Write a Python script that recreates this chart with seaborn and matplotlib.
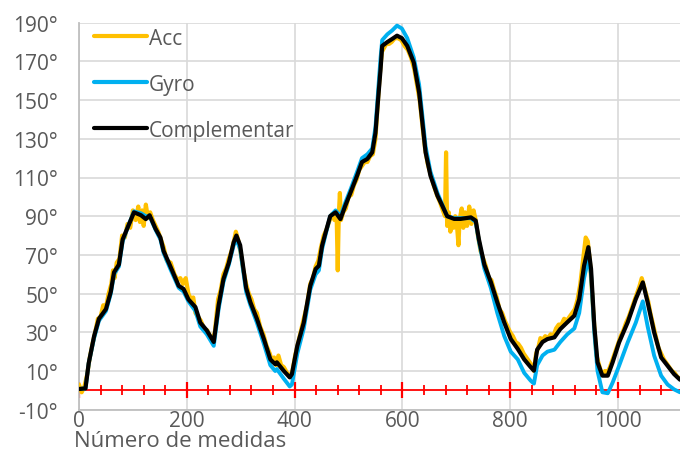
import numpy as np
import pandas as pd
import matplotlib
matplotlib.use("Agg")
import matplotlib.pyplot as plt
from matplotlib.ticker import MultipleLocator, FixedLocator
from matplotlib.lines import Line2D
import seaborn as sns

# ---------------- data ----------------
comp_x = [0, 12, 18, 28, 37, 50, 59, 65, 74, 81,
          90, 102, 115, 124, 131, 142, 151, 157, 169, 185,
          194, 203, 216, 225, 237, 250, 259, 268, 278, 287,
          292, 299, 305, 310, 318, 330, 343, 355, 364, 367,
          380, 391, 395, 405, 417, 429, 439, 445, 451, 457,
          466, 476, 485, 494, 504, 516, 525, 535, 544, 550,
          554.5, 559.5, 562.5, 572, 581, 590, 599, 609, 621, 631,
          637, 643, 652, 665, 674, 683, 696, 708, 727, 736,
          742, 752, 764, 776, 789, 801, 814, 826, 838, 844,
          850, 860, 869, 882, 893, 906, 919, 928, 937, 945,
          950, 956, 962, 971, 981, 990, 1002, 1018, 1033, 1046,
          1055, 1067, 1080, 1092, 1104, 1115]

comp_y = [0.7, 1, 14, 28, 37, 42, 51, 61, 65, 78,
          84, 92, 90.5, 88.5, 90.5, 83.5, 79, 72, 64.4, 54,
          52.4, 47, 43, 35, 31, 25, 44, 57.5, 66, 76.5,
          80, 75, 63, 53, 45.5, 37, 26.5, 16, 13.5, 14.5,
          10, 6.7, 8.4, 23, 35, 54, 62.7, 64.4, 74.8, 81,
          90, 92, 88.5, 95.4, 102.4, 111, 118, 119.6, 123, 133,
          149, 166, 178, 180, 181.6, 183.3, 182, 178, 169.5, 154,
          138.5, 123, 111, 100.6, 95.4, 90, 88.6, 88.6, 89.4, 87.7,
          78, 65, 56, 45.5, 35, 26.5, 21.4, 16, 12, 10.2,
          21, 25, 26.5, 27.4, 31.7, 35.2, 38.6, 47, 64.4, 74,
          62.7, 33.4, 14.5, 7.6, 7.6, 14.5, 24.8, 35.2, 47.2, 55.8,
          45.5, 30, 17, 12.7, 8.4, 5.5]

gyro_x = comp_x
gyro_y = [0.7, 1, 14, 27, 36, 41, 50, 60, 64, 77,
          84, 92.5, 91.5, 90, 90, 83, 78, 71, 63, 53,
          51, 46, 41, 33, 29, 23, 42, 56, 65, 75,
          78, 73, 61, 51, 44, 35, 24, 13, 10, 11,
          6, 2, 3, 19, 32, 52, 60, 62, 73, 80,
          90, 93, 90, 97, 104, 113, 120, 122, 125, 136,
          153, 172, 181, 184, 186, 188.5, 187, 182, 172, 158,
          142, 126, 113, 102, 96, 90, 89, 89, 89, 87,
          77, 63, 53, 40, 28, 20, 16, 9, 5, 3.5,
          13, 18, 20, 21, 25, 29, 32, 40, 58, 68,
          60, 30, 10, -1, -1.5, 4, 12.7, 24.8, 35, 46,
          33, 18, 7.6, 3, 0.5, -1]

acc_x = [0, 5, 10, 15, 20, 25, 30, 35, 40, 45,
         50, 55, 60, 63, 66, 70, 75, 80, 85, 90,
         95, 100, 105, 110, 113, 117, 120, 124, 128, 132,
         137, 142, 147, 152, 157, 163, 170, 177, 183, 188,
         193, 198, 203, 208, 212, 216, 221, 226, 232, 238,
         243, 248, 252, 258, 263, 268, 273, 278, 283, 288,
         291, 295, 300, 305, 310, 315, 320, 325, 330, 336,
         342, 348, 354, 358, 362, 366, 370, 375, 380, 386,
         391, 396, 401, 406, 411, 417, 423, 429, 434, 439,
         444, 449, 454, 459, 464, 469, 474, 478, 480, 482,
         484, 486, 490, 495, 500, 505, 510, 515, 520, 525,
         530, 535, 540, 545, 550, 554, 558, 562, 566, 570,
         575, 580, 586, 592, 598, 604, 610, 616, 622, 627,
         632, 637, 642, 647, 652, 658, 664, 670, 675, 679,
         681, 683, 686, 689, 692, 695, 698, 701, 704, 706,
         710, 713, 716, 720, 724, 728, 732, 736, 740, 745,
         750, 755, 760, 765, 770, 775, 780, 785, 790, 795,
         800, 805, 810, 815, 820, 825, 830, 835, 840, 844,
         848, 852, 856, 860, 865, 870, 875, 880, 885, 890,
         895, 900, 905, 910, 915, 920, 925, 930, 935, 940,
         944, 948, 952, 956, 960, 964, 968, 972, 976, 980,
         985, 990, 995, 1000, 1005, 1010, 1015, 1020, 1025, 1030,
         1035, 1040, 1044, 1048, 1052, 1056, 1060, 1065, 1070, 1075,
         1080, 1085, 1090, 1095, 1100, 1105, 1110, 1115]

acc_y = [3, -1, 2, 8, 17, 24, 30, 37, 38, 44,
         43, 50, 55, 62, 58, 66, 68, 80, 79, 86,
         84, 93, 88, 95, 87, 93, 85, 96, 89, 92,
         88, 85, 82, 78, 74, 67, 66, 60, 57, 58,
         55, 58, 50, 47, 48, 40, 38, 36, 32, 31,
         28, 26, 30, 47, 52, 60, 63, 68, 72, 78,
         82, 78, 71, 62, 55, 50, 47, 42, 40, 33,
         29, 23, 19, 15, 17, 13, 18, 13, 12, 9,
         7, 10, 18, 24, 30, 37, 44, 55, 58, 64,
         67, 74, 80, 83, 87, 91, 88, 90, 62, 91,
         102, 88, 92, 94, 100, 101, 106, 109, 114, 116,
         118, 118, 121, 122, 130, 147, 163, 175, 177, 179,
         179, 180, 182, 182, 181, 178, 176, 172, 166, 158,
         150, 137, 125, 117, 112, 106, 101, 97, 93, 90,
         123, 85, 92, 82, 88, 84, 90, 86, 75, 88,
         94, 84, 92, 85, 95, 86, 93, 88, 80, 72,
         68, 64, 58, 57, 52, 48, 42, 40, 36, 33,
         30, 28, 25, 24, 22, 19, 17, 15, 13, 10,
         19, 22, 27, 26, 28, 27, 29, 28, 32, 34,
         34, 37, 36, 38, 40, 42, 47, 55, 67, 79,
         77, 66, 50, 33, 18, 14, 10, 9, 10, 9,
         12, 16, 20, 24, 28, 31, 35, 38, 42, 46,
         50, 54, 58, 54, 50, 46, 40, 34, 28, 22,
         19, 16, 14, 12, 10, 9, 7, 6]

series_names = ["Acc", "Gyro", "Complementar"]
series_colors = ["#FFC000", "#00B0F0", "#000000"]
y_ticks = [-10, 10, 30, 50, 70, 90, 110, 130, 150, 170, 190]
y_tick_labels = ["-10°", "10°", "30°", "50°", "70°", "90°", "110°",
                 "130°", "150°", "170°", "190°"]
x_ticks = [0, 200, 400, 600, 800, 1000]
x_label = "Número de medidas"

# ---------------- figure ----------------
sns.set_style("white")
plt.rcParams["font.family"] = ["Open Sans", "DejaVu Sans"]

fig = plt.figure(figsize=(6.8, 4.52), dpi=100)
ax = fig.add_axes([79 / 680, 1 - 410.7 / 452, 1 - 79 / 680, (410.7 - 23.7) / 452])

grid_c = "#D9D9D9"
txt_c = "#595959"

ax.set_xlim(0, 1115)
ax.set_ylim(-10, 190)
ax.yaxis.set_major_locator(FixedLocator(y_ticks))
ax.yaxis.set_minor_locator(MultipleLocator(2))
ax.set_yticklabels(y_tick_labels)
ax.xaxis.set_major_locator(FixedLocator(x_ticks))
ax.grid(True, which="major", color=grid_c, linewidth=1.2)
ax.set_axisbelow(True)

for s in ["top", "right"]:
    ax.spines[s].set_visible(False)
for s in ["left", "bottom"]:
    ax.spines[s].set_color("#BFBFBF")
    ax.spines[s].set_linewidth(1.3)

ax.tick_params(axis="y", which="major", direction="inout", length=10, width=1.1,
               color="#BFBFBF", labelsize=15, labelcolor=txt_c, pad=10)
ax.tick_params(axis="y", which="minor", direction="inout", length=6, width=1.0,
               color="#BFBFBF")
ax.tick_params(axis="x", which="both", length=0, labelsize=15, labelcolor=txt_c, pad=0)

# red zero axis with tick marks
ax.axhline(0, color="#FF0000", linewidth=1.3, zorder=2)
minor_pos = np.arange(0, 1116, 40)
major_pos = np.arange(0, 1116, 200)
ax.plot(minor_pos, np.zeros_like(minor_pos), linestyle="none", marker="|",
        markersize=7, markeredgewidth=1.3, color="#FF0000", zorder=2)
ax.plot(major_pos, np.zeros_like(major_pos), linestyle="none", marker="|",
        markersize=11, markeredgewidth=1.6, color="#FF0000", zorder=2)

df_acc = pd.DataFrame({"x": acc_x, "y": acc_y})
df_gyro = pd.DataFrame({"x": gyro_x, "y": gyro_y})
df_comp = pd.DataFrame({"x": comp_x, "y": comp_y})

sns.lineplot(data=df_acc, x="x", y="y", color=series_colors[0], linewidth=3.0,
             sort=False, estimator=None, ax=ax, zorder=3)
sns.lineplot(data=df_gyro, x="x", y="y", color=series_colors[1], linewidth=2.8,
             sort=False, estimator=None, ax=ax, zorder=4)
sns.lineplot(data=df_comp, x="x", y="y", color=series_colors[2], linewidth=3.0,
             sort=False, estimator=None, ax=ax, zorder=5)
ax.set_xlabel("")
ax.set_ylabel("")

handles = [Line2D([0], [0], color=c, linewidth=3) for c in series_colors]
leg = ax.legend(handles, series_names, loc="upper left", bbox_to_anchor=(0.0, 1.025),
                frameon=False, fontsize=15, handlelength=2.55, handletextpad=0.12,
                labelspacing=1.2, borderaxespad=0.3)
for t in leg.get_texts():
    t.set_color(txt_c)

fig.text(74 / 680, 1 - 447 / 452, x_label, fontsize=16, color=txt_c,
         ha="left", va="baseline")

fig.savefig("out.png", dpi=100)
